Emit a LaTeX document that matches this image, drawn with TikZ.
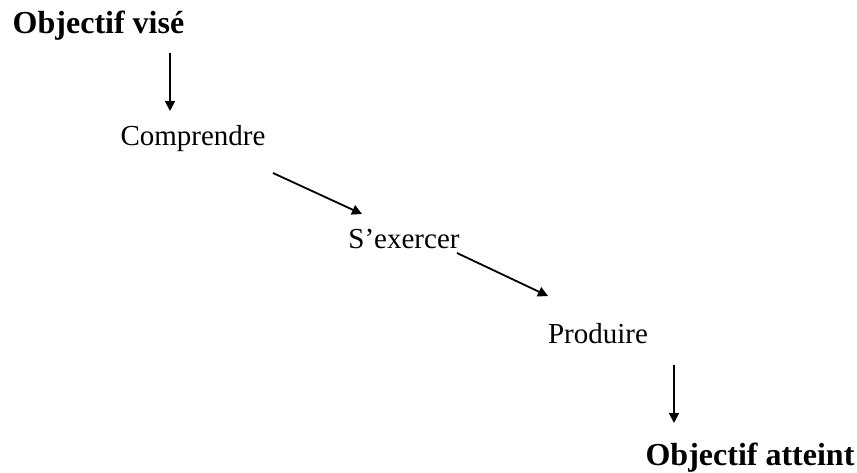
\documentclass[tikz,border=0pt]{standalone}
\usepackage{fontspec}
\setmainfont{Liberation Serif}
\usetikzlibrary{arrows.meta,positioning}

\begin{document}
\begin{tikzpicture}[x=0.5pt, y=-0.5pt]
		\useasboundingbox (0,0) rectangle (857,472);
		\begin{scope}[every node/.style={inner sep=0pt, anchor=base, font=\fontsize{14.5}{17}\selectfont}]
			\node[font=\fontsize{16}{19}\selectfont\bfseries] (vise) at (98.5,33) {Objectif visé};
			\node (compr) at (193,145) {Comprendre};
			\node (exer) at (404,248) {S’exercer};
			\node (prod) at (598,343) {Produire};
			\node[font=\fontsize{16}{19}\selectfont\bfseries] (atteint) at (750,465) {Objectif atteint};
		\end{scope}
		% arrow ends
		\coordinate (a1) at (170,53);
		\coordinate (b1) at (170,111);
		\coordinate (a2) at (273,173);
		\coordinate (b2) at (362,214);
		\coordinate (a3) at (457,253);
		\coordinate (b3) at (548,296);
		\coordinate (a4) at (674,365);
		\coordinate (b4) at (674,423);
		\begin{scope}[every path/.style={line width=0.9pt,-{Triangle[length=5pt,width=5pt]}}]
			\draw (a1) -- (b1);
			\draw (a2) -- (b2);
			\draw (a3) -- (b3);
			\draw (a4) -- (b4);
		\end{scope}
	\end{tikzpicture}
\end{document}
